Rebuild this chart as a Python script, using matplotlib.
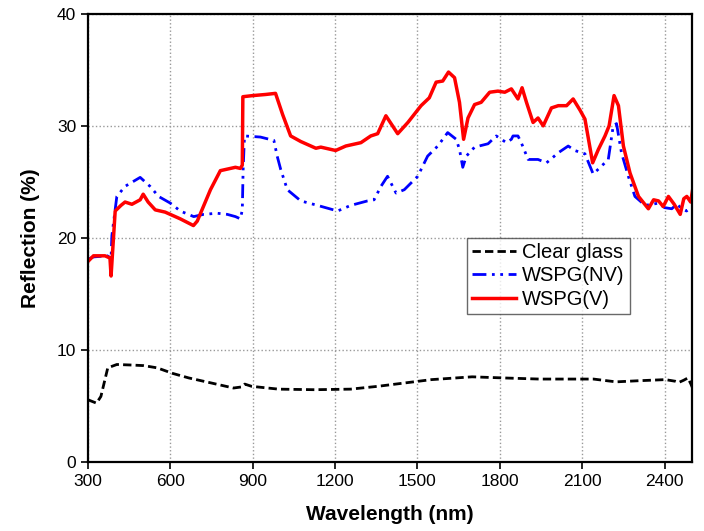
import matplotlib
matplotlib.use("Agg")
import matplotlib.pyplot as plt

plt.rcParams['font.family'] = ['Liberation Sans', 'DejaVu Sans']

# Clear glass
clear_x = [300, 331, 347, 372, 405, 460, 503, 552, 609, 667, 749, 830, 860, 871, 896,
           994, 1125, 1256, 1355, 1453, 1551, 1699, 1813, 1944, 2141, 2223, 2305, 2403,
           2440, 2452, 2470, 2485, 2495, 2502]
clear_y = [5.55, 5.25, 5.85, 8.4, 8.7, 8.65, 8.6, 8.4, 7.9, 7.5, 7.05, 6.6, 6.7, 6.95, 6.75,
           6.5, 6.45, 6.5, 6.75, 7.05, 7.35, 7.6, 7.5, 7.4, 7.4, 7.15, 7.25, 7.35,
           7.2, 7.1, 7.3, 7.5, 7.0, 6.6]

# WSPG(NV)
nv_x = [300, 320, 370, 384, 387, 405, 435, 490, 526, 557, 600, 636, 685, 721, 770, 807,
        837, 855, 862, 865, 870, 928, 977, 989, 1002, 1026, 1075, 1136, 1209, 1257,
        1318, 1342, 1367, 1391, 1422, 1452, 1501, 1537, 1574, 1610, 1641, 1653, 1665,
        1678, 1708, 1757, 1787, 1824, 1842, 1848, 1866, 1878, 1903, 1939, 1970, 2013,
        2049, 2073, 2110, 2140, 2170, 2195, 2213, 2225, 2243, 2268, 2292, 2329, 2378,
        2400, 2426, 2445, 2463, 2480, 2506]
nv_y = [18.1, 18.3, 18.4, 18.2, 20.2, 23.7, 24.6, 25.4, 24.6, 23.7, 23.1, 22.4, 21.9, 22.1,
        22.2, 22.1, 21.9, 21.7, 22.5, 26.1, 29.1, 29.0, 28.7, 27.3, 26.1, 24.3, 23.3,
        22.9, 22.4, 22.9, 23.3, 23.4, 24.6, 25.5, 24.0, 24.3, 25.5, 27.3, 28.2, 29.4,
        28.8, 27.9, 26.3, 27.3, 28.1, 28.4, 29.1, 28.5, 28.8, 29.1, 29.1, 28.5, 27.0,
        27.0, 26.7, 27.6, 28.2, 27.8, 27.5, 25.7, 26.4, 27.0, 30.0, 30.2, 27.6, 25.5,
        23.7, 22.9, 23.1, 22.7, 22.6, 23.0, 22.6, 22.4, 22.9]

# WSPG(V)
v_x = [300, 320, 362, 380, 384, 399, 420, 435, 460, 490, 501, 519, 545, 581, 636, 684, 698,
       746, 782, 837, 855, 862, 864, 900, 947, 983, 1009, 1038, 1075, 1130, 1148, 1202,
       1239, 1294, 1330, 1355, 1385, 1428, 1465, 1513, 1543, 1568, 1592, 1613, 1635,
       1653, 1668, 1684, 1708, 1732, 1763, 1793, 1818, 1842, 1866, 1881, 1897, 1921,
       1939, 1958, 1988, 2013, 2043, 2067, 2092, 2110, 2138, 2159, 2183, 2198, 2216,
       2232, 2250, 2274, 2305, 2341, 2360, 2378, 2395, 2414, 2435, 2457, 2470, 2481,
       2495, 2506]
v_y = [17.9, 18.4, 18.4, 18.2, 16.6, 22.4, 22.9, 23.2, 23.0, 23.4, 23.9, 23.2, 22.5, 22.3,
       21.7, 21.1, 21.5, 24.3, 26.0, 26.3, 26.2, 26.5, 32.6, 32.7, 32.8, 32.9, 31.0,
       29.1, 28.6, 28.0, 28.1, 27.8, 28.2, 28.5, 29.1, 29.3, 30.9, 29.3, 30.3, 31.8,
       32.5, 33.9, 34.0, 34.8, 34.3, 32.1, 28.8, 30.7, 31.9, 32.1, 33.0, 33.1, 33.0,
       33.3, 32.4, 33.4, 32.1, 30.3, 30.7, 30.0, 31.6, 31.8, 31.8, 32.4, 31.4, 30.6,
       26.7, 27.9, 29.1, 30.0, 32.7, 31.8, 28.2, 25.8, 23.7, 22.6, 23.4, 23.3, 22.8,
       23.7, 23.0, 22.1, 23.5, 23.7, 23.2, 24.9]

x_ticks = [300, 600, 900, 1200, 1500, 1800, 2100, 2400]
y_ticks = [0, 10, 20, 30, 40]

fig = plt.figure(figsize=(7.04, 5.31), dpi=100)
ax = fig.add_axes([0.125, 0.130, 0.858, 0.844])

ax.plot(clear_x, clear_y, color='black', linestyle=(0, (3, 1.5)), linewidth=2, label='Clear glass')
ax.plot(nv_x, nv_y, color='#0000ff', linestyle=(0, (5, 2, 1, 2, 1, 2)), linewidth=2, label='WSPG(NV)')
ax.plot(v_x, v_y, color='#ff0000', linestyle='-', linewidth=2.5, label='WSPG(V)')

ax.set_xlim(300, 2500)
ax.set_ylim(0, 40)
ax.set_xticks(x_ticks)
ax.set_yticks(y_ticks)
ax.tick_params(direction='out', length=5, width=1.2, labelsize=12.5)
ax.grid(True, linestyle=':', color='#999999', linewidth=1)
for s in ax.spines.values():
    s.set_linewidth(1.6)

ax.set_xlabel('Wavelength (nm)', fontsize=15, fontweight='bold', labelpad=12)
ax.set_ylabel('Reflection (%)', fontsize=15, fontweight='bold', labelpad=12)

leg = ax.legend(loc='upper left', bbox_to_anchor=(0.627, 0.5), fontsize=14.5, frameon=True,
                fancybox=False, edgecolor='#444444', borderpad=0.25, handlelength=2.2,
                handletextpad=0.3, labelspacing=0.22, borderaxespad=0)
leg.get_frame().set_linewidth(1)

fig.savefig('out.png', dpi=100)
